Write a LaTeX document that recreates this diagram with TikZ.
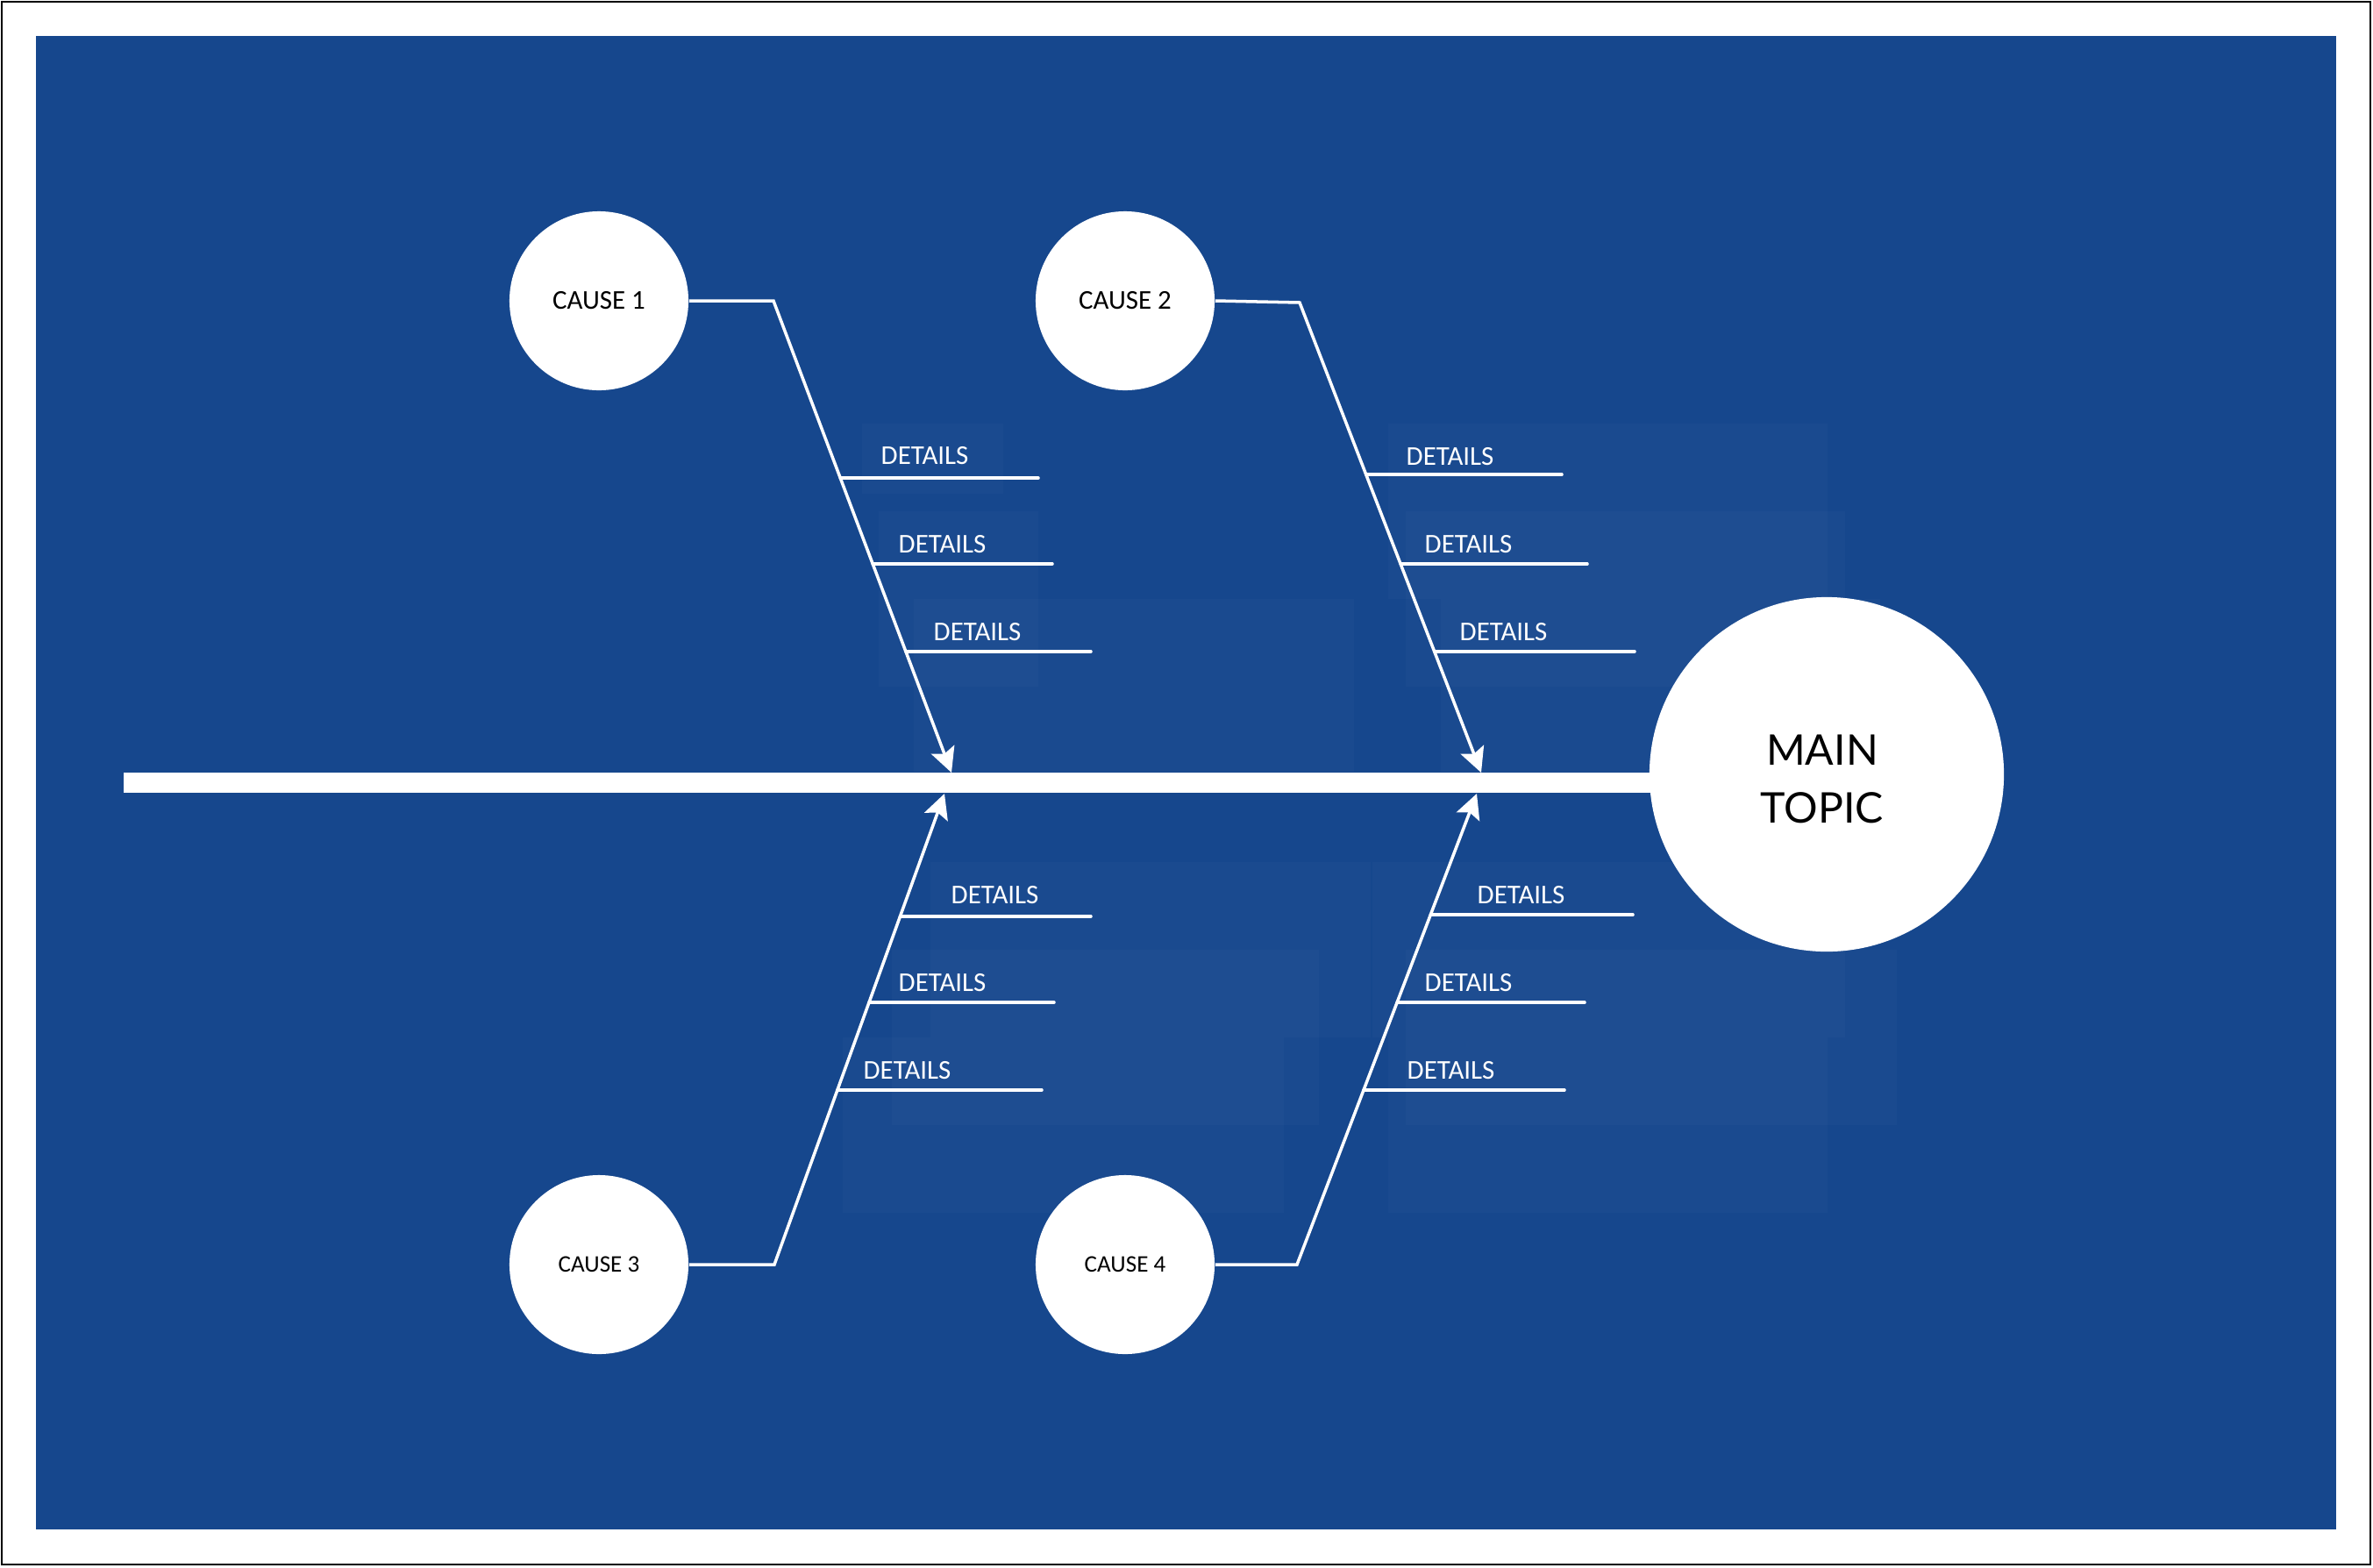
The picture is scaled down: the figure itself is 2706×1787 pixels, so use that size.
\documentclass[tikz,border=0pt]{standalone}
\usepackage{fontspec}
\setmainfont{Carlito}
\newfontfamily\latofont{Lato}
\usetikzlibrary{arrows.meta,calc}
\definecolor{bgblue}{RGB}{22,71,141}
\begin{document}
\begin{tikzpicture}[x=0.01cm,y=-0.01cm,
  cause/.style={circle, fill=white, minimum size=2.04cm, inner sep=0pt, text=black, font=\fontsize{8.8}{10}\selectfont},
  causesm/.style={cause, font=\fontsize{7.7}{9}\selectfont},
  detail/.style={anchor=west, inner sep=0pt, text=white, font=\fontsize{8.8}{10}\selectfont},
  bone/.style={draw=white, line width=1pt},
  tipped/.style={-{Stealth[length=8pt,width=8pt,inset=1.5pt]}},
  dline/.style={draw=white, line width=1pt, line cap=round},
  faint/.style={fill=white, fill opacity=0.02}]
\useasboundingbox (0,0) rectangle (2706,1787);
\fill[white] (0,0) rectangle (2706,1787);
\draw[black, line width=0.8pt] (2,2) rectangle (2703,1784);
\fill[bgblue] (41,41) rectangle (2664,1744);
% faint text-box backgrounds
\fill[faint] (983,483) rectangle (1144,563);
\fill[faint] (1002,583) rectangle (1184,783);
\fill[faint] (1042,683) rectangle (1544,880);
\fill[faint] (1583,483) rectangle (2084,683);
\fill[faint] (1603,583) rectangle (2104,783);
\fill[faint] (1643,683) rectangle (2144,880);
\fill[faint] (1061,983) rectangle (1563,1183);
\fill[faint] (1017,1083) rectangle (1504,1283);
\fill[faint] (961,1183) rectangle (1464,1383);
\fill[faint] (1565,983) rectangle (2104,1183);
\fill[faint] (1603,1083) rectangle (2163,1283);
\fill[faint] (1583,1183) rectangle (2084,1383);
% spine
\coordinate (spineL) at (141,892.5);
\coordinate (spineR) at (2083,892.5);
\draw[white, line width=6.5pt] (spineL) -- (spineR);
% main topic
\node[circle, fill=white, minimum size=4.04cm, inner sep=0pt] (main) at (2083,883) {};
\node[align=center, text=black, inner sep=0pt,
  font=\latofont\fontsize{13.7}{18.8}\selectfont] (maintext) at (2078,888) {MAIN\\TOPIC};
% causes
\node[cause] (c1) at (683,343) {CAUSE 1};
\node[cause] (c2) at (1283,343) {CAUSE 2};
\node[causesm] (c3) at (683,1442) {CAUSE 3};
\node[causesm] (c4) at (1283,1442) {CAUSE 4};
% bends and tips
\coordinate (b1) at (882,343);   \coordinate (t1) at (1085,881);
\coordinate (b2) at (1482,345);  \coordinate (t2) at (1689,881);
\coordinate (b3) at (883,1442);  \coordinate (t3) at (1077,905);
\coordinate (b4) at (1479,1442); \coordinate (t4) at (1684,905);
\draw[bone, tipped] (c1.east) -- (b1) -- (t1);
\draw[bone, tipped] (c2.east) -- (b2) -- (t2);
\draw[bone, tipped] (c3.east) -- (b3) -- (t3);
\draw[bone, tipped] (c4.east) -- (b4) -- (t4);
% detail attachment points
\coordinate (d11) at ($(b1)!0.3755!(t1)$); \coordinate (e11) at (1184,545);
\coordinate (d12) at ($(b1)!0.5576!(t1)$); \coordinate (e12) at (1200,643);
\coordinate (d13) at ($(b1)!0.7435!(t1)$); \coordinate (e13) at (1244,743);
\coordinate (d21) at ($(b2)!0.3657!(t2)$); \coordinate (e21) at (1781,541);
\coordinate (d22) at ($(b2)!0.5560!(t2)$); \coordinate (e22) at (1810,643);
\coordinate (d23) at ($(b2)!0.7425!(t2)$); \coordinate (e23) at (1864,743);
\coordinate (d31) at ($(b3)!0.7393!(t3)$); \coordinate (e31) at (1244,1045);
\coordinate (d32) at ($(b3)!0.5568!(t3)$); \coordinate (e32) at (1202,1143);
\coordinate (d33) at ($(b3)!0.3706!(t3)$); \coordinate (e33) at (1188,1243);
\coordinate (d41) at ($(b4)!0.7430!(t4)$); \coordinate (e41) at (1862,1043);
\coordinate (d42) at ($(b4)!0.5568!(t4)$); \coordinate (e42) at (1807,1143);
\coordinate (d43) at ($(b4)!0.3706!(t4)$); \coordinate (e43) at (1784,1243);
\foreach \i in {11,12,13,21,22,23,31,32,33,41,42,43}
  \draw[dline] (d\i) -- (d\i -| e\i);
% detail labels
\node[detail] (l11) at (1004,520) {DETAILS};
\node[detail] (l12) at (1024,621) {DETAILS};
\node[detail] (l13) at (1064,721) {DETAILS};
\node[detail] (l21) at (1603,521) {DETAILS};
\node[detail] (l22) at (1624,621) {DETAILS};
\node[detail] (l23) at (1664,721) {DETAILS};
\node[detail] (l31) at (1084,1021) {DETAILS};
\node[detail] (l32) at (1024,1121) {DETAILS};
\node[detail] (l33) at (984,1221) {DETAILS};
\node[detail] (l41) at (1684,1021) {DETAILS};
\node[detail] (l42) at (1624,1121) {DETAILS};
\node[detail] (l43) at (1604,1221) {DETAILS};
\end{tikzpicture}
\end{document}
